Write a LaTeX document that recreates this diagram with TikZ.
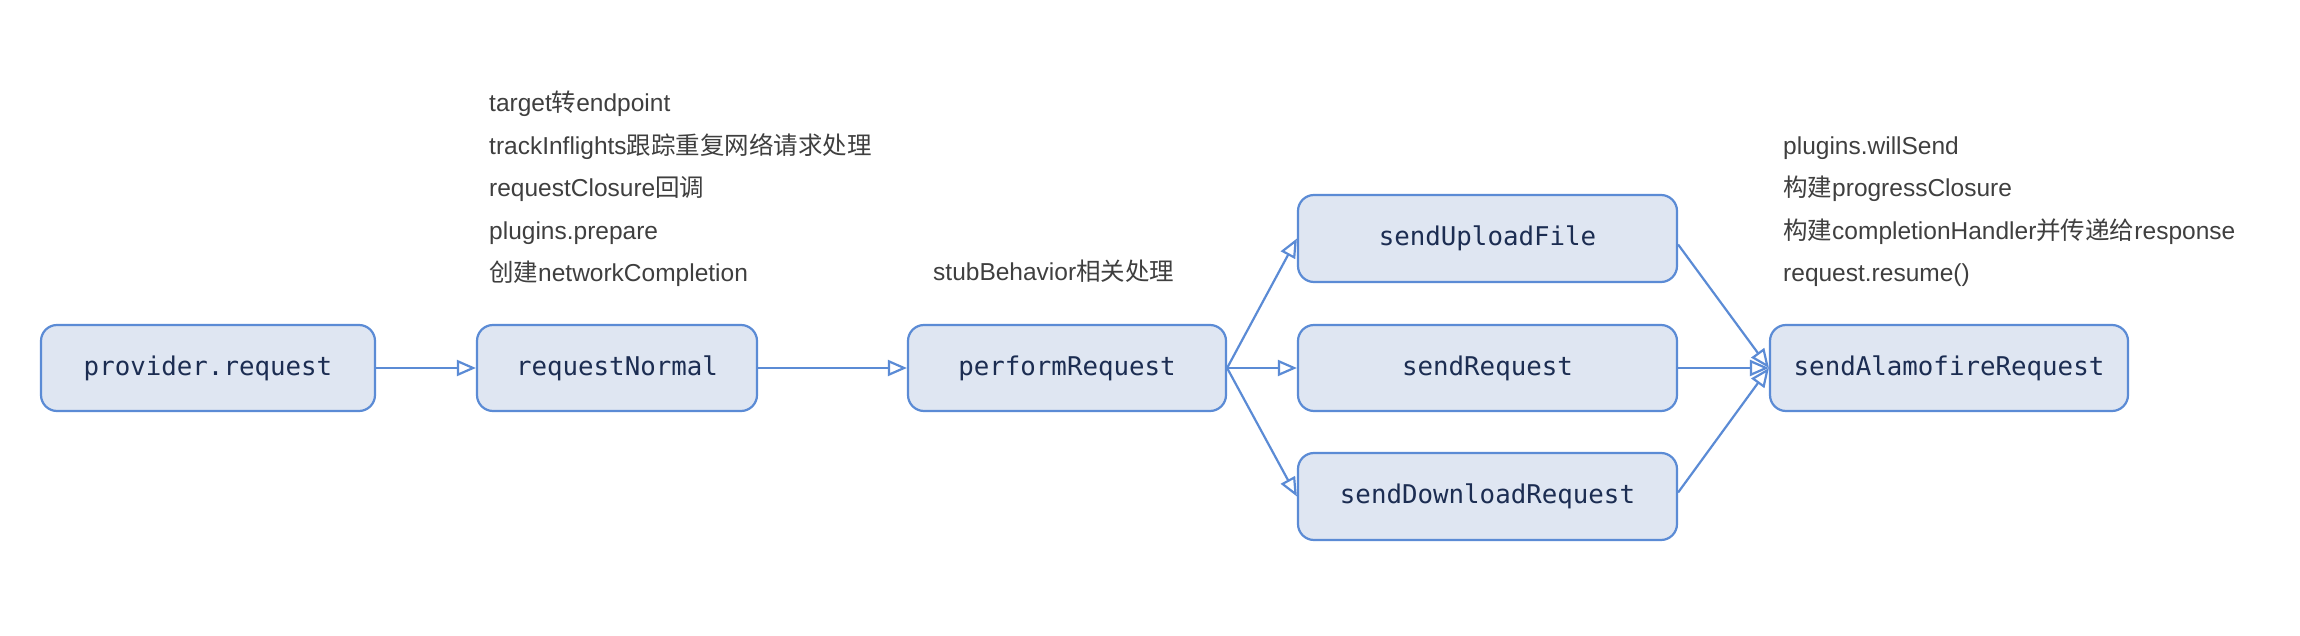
\documentclass[tikz,border=0pt]{standalone}
\usepackage{fontspec}
\setmainfont{Liberation Sans}
\newfontfamily\cjk{Noto Sans CJK SC}
\newfontfamily\monof{DejaVu Sans Mono}
\usetikzlibrary{arrows.meta}
\definecolor{boxfill}{HTML}{DFE6F2}
\definecolor{boxline}{HTML}{5B8BD5}
\definecolor{boxtext}{HTML}{1C2D52}
\definecolor{notetext}{HTML}{3F3F3F}
\begin{document}
\begin{tikzpicture}[x=1pt,y=-1pt,
  box/.style={draw=boxline, fill=boxfill, line width=2.2pt, rounded corners=16pt,
    minimum height=86pt, inner sep=0pt, text=boxtext,
    font=\monof\fontsize{25.8}{30}\selectfont},
  note/.style={anchor=base west, inner sep=0pt, text=notetext,
    font=\fontsize{24.5}{29}\selectfont},
  link/.style={draw=boxline, line width=2.2pt,
    -{Triangle[open, length=19pt, width=16pt, line width=2.2pt]}}]
\useasboundingbox (0,0) rectangle (2300,636);

\node[box, minimum width=334pt] (prov) at (208,368) {provider.request};
\node[box, minimum width=280pt] (norm) at (617,368) {requestNormal};
\node[box, minimum width=318pt] (perf) at (1067,368) {performRequest};
\node[box, minimum width=379pt, minimum height=87pt] (up) at (1487.5,238.5) {sendUploadFile};
\node[box, minimum width=379pt] (send) at (1487.5,368) {sendRequest};
\node[box, minimum width=379pt, minimum height=87pt] (down) at (1487.5,496.5) {sendDownloadRequest};
\node[box, minimum width=358pt] (alamo) at (1949,368) {sendAlamofireRequest};

\draw[link] (prov) -- (norm);
\draw[link] (norm) -- (perf);
\draw[link] (perf.east) -- (up.west);
\draw[link] (perf.east) -- (send.west);
\draw[link] (perf.east) -- (down.west);
\draw[link] ([yshift=-6pt]up.east) -- (alamo.west);
\draw[link] (send.east) -- (alamo.west);
\draw[link] ([yshift=4pt]down.east) -- (alamo.west);

\node[note] (l1) at (489,112) {target{\cjk 转}endpoint};
\node[note] (l2) at (489,154.5) {trackInflights{\cjk 跟踪重复网络请求处理}};
\node[note] (l3) at (489,197) {requestClosure{\cjk 回调}};
\node[note] (l4) at (489,239.5) {plugins.prepare};
\node[note] (l5) at (489,282) {{\cjk 创建}networkCompletion};

\node[note] (s1) at (933,281) {stubBehavior{\cjk 相关处理}};

\node[note] (r1) at (1783,154.5) {plugins.willSend};
\node[note] (r2) at (1783,197) {{\cjk 构建}progressClosure};
\node[note] (r3) at (1783,239.5) {{\cjk 构建}completionHandler{\cjk 并传递给}response};
\node[note] (r4) at (1783,282) {request.resume()};
\end{tikzpicture}
\end{document}
